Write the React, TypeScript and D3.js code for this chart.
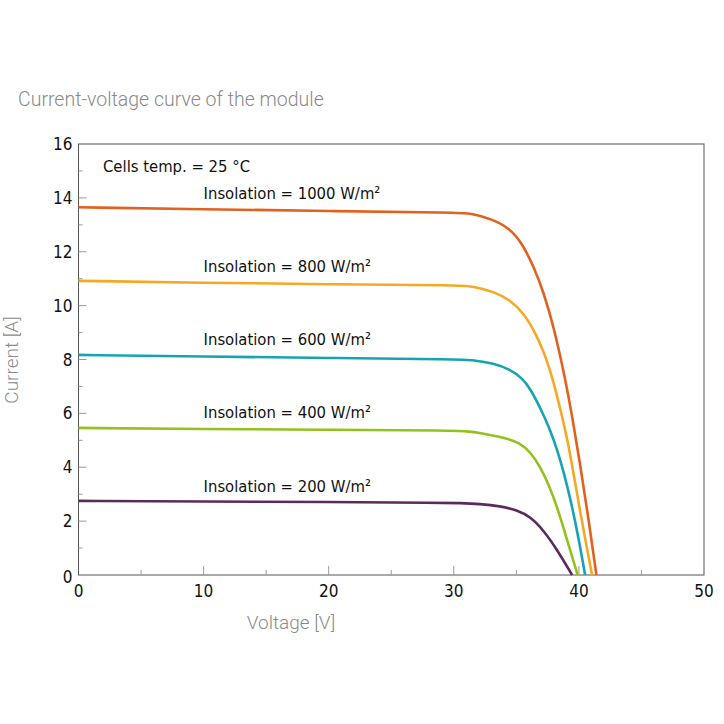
import React from "react";
import * as d3 from "d3";

const xTicks = [0, 10, 20, 30, 40, 50];
const xMinor = [5, 15, 25, 35, 45];
const yTicks = [0, 2, 4, 6, 8, 10, 12, 14, 16];
const yMinor = [1, 3, 5, 7, 9, 11, 13, 15];

const seriesNames = ["1000", "800", "600", "400", "200"];
const seriesColors = ["#e0621e", "#f4a823", "#17a3b4", "#95c11f", "#5b2a5c"];
const v1000 = [0, 10, 20, 30.5, 31.3, 32.9, 34.5, 35.46, 36.4, 37.2, 38.0, 38.9, 39.5, 40.1, 40.7, 41.4];
const i1000 = [13.65, 13.58, 13.51, 13.45, 13.43, 13.24, 12.87, 12.31, 11.44, 10.46, 9.2, 7.3, 5.8, 4.1, 2.3, 0];
const v800 = [0, 10, 20, 30.5, 31.5, 33.2, 34.5, 35.6, 36.4, 37.2, 37.9, 38.5, 39.1, 39.6, 40.1, 40.6, 41.05];
const i800 = [10.92, 10.85, 10.79, 10.76, 10.72, 10.52, 10.21, 9.71, 9.09, 8.3, 7.3, 6.2, 5.0, 3.7, 2.35, 1.1, 0];
const v600 = [0, 10, 20, 30.5, 31.5, 33.2, 34.5, 35.5, 36.1, 36.9, 37.7, 38.3, 38.8, 39.46, 40.0, 40.5];
const i600 = [8.17, 8.11, 8.06, 8.0, 7.98, 7.86, 7.63, 7.3, 6.92, 6.22, 5.4, 4.6, 3.8, 2.55, 1.3, 0];
const v400 = [0, 10, 20, 30, 31, 32.1, 34.3, 35.3, 36.1, 36.9, 37.6, 38.26, 39.06, 39.9];
const i400 = [5.46, 5.42, 5.39, 5.36, 5.34, 5.28, 5.07, 4.89, 4.58, 4.02, 3.35, 2.53, 1.3, 0];
const v200 = [0, 10, 20, 28.9, 30.5, 32.1, 33.7, 35.06, 36.1, 37.2, 38.26, 39.06, 39.46];
const i200 = [2.75, 2.73, 2.71, 2.68, 2.67, 2.64, 2.56, 2.41, 2.17, 1.65, 0.93, 0.31, 0];
const labelY = [13.96, 11.25, 8.54, 5.83, 3.08];

const voltages = [v1000, v800, v600, v400, v200];
const currents = [i1000, i800, i600, i400, i200];

const title = "Current-voltage curve of the module";
const xLabel = "Voltage [V]";
const yLabel = "Current [A]";
const tempLabel = "Cells temp. = 25 °C";

const FONT = "'Liberation Sans Narrow', 'DejaVu Sans Condensed', sans-serif";
const GRAY_FONT = "Roboto, 'Open Sans', sans-serif";

export default function App() {
  const left = 78.5, right = 704, top = 144, bottom = 575;
  const x = d3.scaleLinear().domain([0, 50]).range([left, right]);
  const y = d3.scaleLinear().domain([0, 16]).range([bottom, top]);
  const line = d3.line<[number, number]>().x(d => x(d[0])).y(d => y(d[1])).curve(d3.curveBasis);

  return (
    <svg width={724} height={724} style={{ position: "absolute", left: 0, top: 0, background: "#fff" }}>
      <text x={18} y={106} fontFamily={GRAY_FONT} fontWeight={300} fontSize={19.5} fill="#8a8a8a">{title}</text>
      <rect x={left} y={top} width={right - left} height={bottom - top} fill="none" stroke="#555" strokeWidth={1} />
      {xMinor.map(t => (
        <line key={"xm" + t} x1={x(t)} x2={x(t)} y1={bottom} y2={bottom - 5} stroke="#999" />
      ))}
      {xTicks.slice(1, -1).map(t => (
        <line key={"xt" + t} x1={x(t)} x2={x(t)} y1={bottom} y2={bottom - 9} stroke="#999" />
      ))}
      {yMinor.map(t => (
        <line key={"ym" + t} x1={left} x2={left + 4} y1={y(t)} y2={y(t)} stroke="#999" />
      ))}
      {yTicks.slice(1, -1).map(t => (
        <line key={"yt" + t} x1={left} x2={left + 8} y1={y(t)} y2={y(t)} stroke="#999" />
      ))}
      {xTicks.map(t => (
        <text key={"xl" + t} x={x(t)} y={bottom + 22} textAnchor="middle" fontFamily={FONT} fontSize={17} fill="#111">{t}</text>
      ))}
      {yTicks.map(t => (
        <text key={"yl" + t} x={left - 6} y={y(t) + (t === 0 ? 8 : 6)} textAnchor="end" fontFamily={FONT} fontSize={17} fill="#111">{t}</text>
      ))}
      <text x={291} y={629} textAnchor="middle" fontFamily={GRAY_FONT} fontWeight={300} fontSize={19} fill="#8a8a8a">{xLabel}</text>
      <text transform={`translate(18, 360) rotate(-90)`} textAnchor="middle" fontFamily={GRAY_FONT} fontWeight={300} fontSize={19} fill="#8a8a8a">{yLabel}</text>
      <text x={103} y={y(14.96)} fontFamily={FONT} fontSize={16.5} fill="#111">{tempLabel}</text>
      {seriesNames.map((n, k) => (
        <text key={"lab" + n} x={x(10)} y={y(labelY[k])} fontFamily={FONT} fontSize={16.5} fill="#111">{`Insolation = ${n} W/m²`}</text>
      ))}
      {seriesNames.map((n, k) => {
        const pts = voltages[k].map((v, j) => [v, currents[k][j]] as [number, number]);
        return <path key={"s" + n} d={line(pts) || ""} fill="none" stroke={seriesColors[k]} strokeWidth={2.6} />;
      })}
    </svg>
  );
}
